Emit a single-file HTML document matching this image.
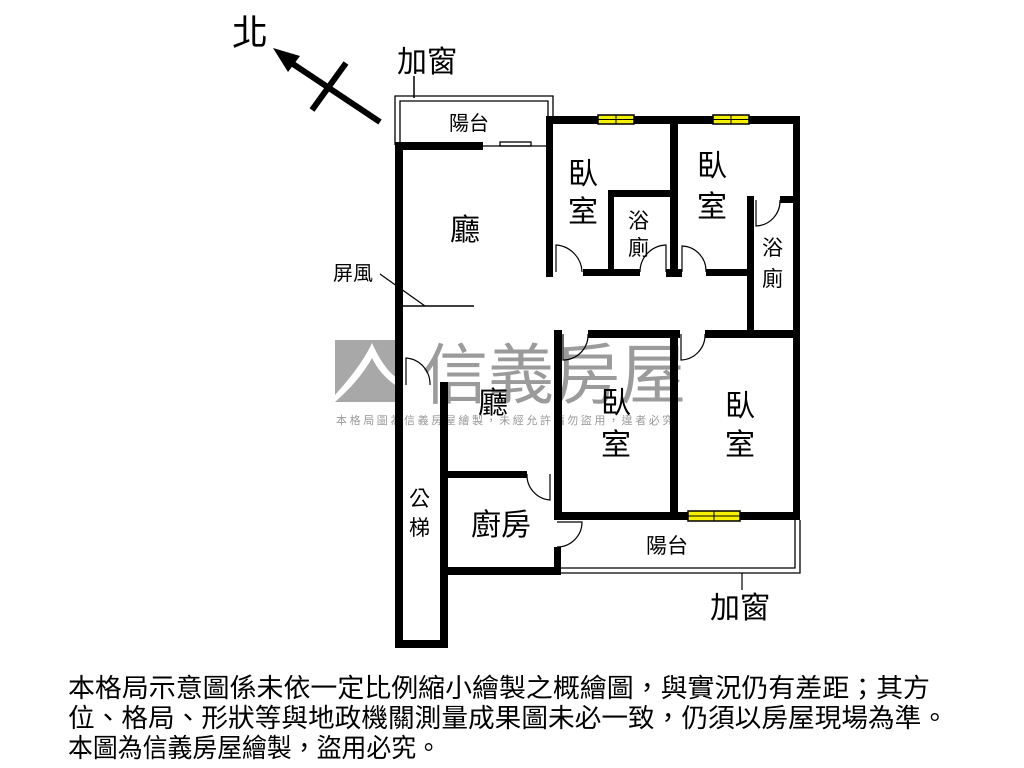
<!DOCTYPE html>
<html><head><meta charset="utf-8"><style>
html,body{margin:0;padding:0;background:#fff;}
svg{display:block;}
text{font-family:"Liberation Sans","Noto Sans CJK TC",sans-serif;fill:#000;}
</style></head><body>
<svg width="1024" height="768" viewBox="0 0 1024 768" xmlns="http://www.w3.org/2000/svg">
<rect width="1024" height="768" fill="#fff"/>
<!-- watermark -->
<g opacity="0.85">
<rect x="335" y="340" width="65" height="62" fill="#999"/>
<path d="M335 395 Q362 365 372 343 Q385 372 400 380 L400 388 Q382 378 372 358 Q360 380 335 402 Z" fill="#fff"/>
<text x="422" y="398" font-size="66" style="fill:#8a8a8a">信義房屋</text>
<text x="336" y="424" font-size="11" style="fill:#888" letter-spacing="2.6">本格局圖為信義房屋繪製，未經允許請勿盜用，違者必究</text>
</g>
<!-- north -->
<text x="232" y="45" font-size="36">北</text>
<line x1="380" y1="122" x2="290" y2="62" stroke="#000" stroke-width="6"/>
<polygon points="273,48 300,56 288,72" fill="#000"/>
<line x1="312" y1="110" x2="346" y2="63" stroke="#000" stroke-width="6"/>
<text x="397" y="72" font-size="30">加窗</text>
<line x1="414" y1="76" x2="414" y2="98" stroke="#000" stroke-width="1.5"/>
<g fill="none" stroke="#000" stroke-width="1.3">
<polyline points="395,145 395,96 553,96 553,118"/>
<polyline points="400,145 400,101 548,101 548,118"/>
<polyline points="560,568 795,568 795,520"/>
<polyline points="560,573 800,573 800,520"/>
<line x1="482" y1="146" x2="547" y2="146"/>
<rect x="500" y="142" width="31" height="4"/>
</g>
<g fill="#000">
<rect x="395" y="142" width="8" height="506"/>
<rect x="395" y="142" width="88" height="8"/>
<rect x="395" y="640" width="53" height="8"/>
<rect x="440" y="382" width="8" height="266"/>
<rect x="546" y="116" width="254" height="8"/>
<rect x="793" y="116" width="7" height="404"/>
<rect x="546" y="116" width="7" height="161"/>
<rect x="583" y="269" width="57" height="7"/>
<rect x="608" y="190" width="6" height="86"/>
<rect x="608" y="190" width="68" height="7"/>
<rect x="670" y="116" width="8" height="161"/>
<rect x="666" y="269" width="16" height="8"/>
<rect x="706" y="269" width="48" height="7"/>
<rect x="747" y="196" width="7" height="141"/>
<rect x="780" y="196" width="15" height="7"/>
<rect x="554" y="330" width="8" height="190"/>
<rect x="588" y="330" width="92" height="8"/>
<rect x="670" y="330" width="8" height="190"/>
<rect x="705" y="330" width="95" height="8"/>
<rect x="554" y="512" width="246" height="8"/>
<rect x="448" y="471" width="79" height="7"/>
<rect x="554" y="547" width="7" height="28"/>
<rect x="445" y="567" width="116" height="8"/>
</g>
<g stroke="#000" stroke-width="1.5" fill="#f4f000">
<rect x="598" y="115" width="36" height="9"/>
<rect x="713" y="115" width="36" height="9"/>
<rect x="688" y="511" width="52" height="10"/>
</g>
<g stroke="#000" stroke-width="1">
<line x1="616" y1="115" x2="616" y2="124"/><line x1="598" y1="119.5" x2="634" y2="119.5"/>
<line x1="731" y1="115" x2="731" y2="124"/><line x1="713" y1="119.5" x2="749" y2="119.5"/>
<line x1="714" y1="511" x2="714" y2="521"/><line x1="688" y1="516" x2="740" y2="516"/>
</g>
<g fill="none" stroke="#000" stroke-width="1.2">
<path d="M556 272 V245 A28 28 0 0 1 582 272"/>
<path d="M666 272 V245 A27 27 0 0 0 640 272"/>
<path d="M682 272 V246 A25 25 0 0 1 706 272"/>
<path d="M756 200 V226 A25 25 0 0 0 780 200"/>
<path d="M563 334 V360 A25 25 0 0 0 588 334"/>
<path d="M681 334 V360 A25 25 0 0 0 705 334"/>
<path d="M406 385 V358 A26 26 0 0 1 430 385"/>
<path d="M527 474 A25 25 0 0 0 550 500 V474"/>
<path d="M557 522 H582 A25 25 0 0 1 557 547"/>
<line x1="380" y1="274" x2="425" y2="306"/>
<line x1="401" y1="306" x2="474" y2="306" stroke-width="1.5"/>
<line x1="742" y1="573" x2="742" y2="590"/>
</g>
<text x="449" y="130" font-size="20">陽台</text>
<text x="568" y="184" font-size="30">臥</text>
<text x="568" y="222" font-size="30">室</text>
<text x="628" y="228" font-size="21">浴</text>
<text x="628" y="255" font-size="21">廁</text>
<text x="697" y="176" font-size="30">臥</text>
<text x="697" y="217" font-size="30">室</text>
<text x="762" y="255" font-size="21">浴</text>
<text x="762" y="286" font-size="21">廁</text>
<text x="450" y="240" font-size="30">廳</text>
<text x="333" y="280" font-size="20">屏風</text>
<text x="478" y="413" font-size="30">廳</text>
<text x="601" y="413" font-size="30">臥</text>
<text x="601" y="455" font-size="30">室</text>
<text x="725" y="416" font-size="30">臥</text>
<text x="725" y="455" font-size="30">室</text>
<text x="409" y="506" font-size="21">公</text>
<text x="409" y="535" font-size="21">梯</text>
<text x="471" y="535" font-size="30">廚房</text>
<text x="646" y="553" font-size="21">陽台</text>
<text x="710" y="618" font-size="30">加窗</text>
<text x="68" y="697" font-size="26" textLength="862" lengthAdjust="spacingAndGlyphs">本格局示意圖係未依一定比例縮小繪製之概繪圖，與實況仍有差距；其方</text>
<text x="68" y="727" font-size="26" textLength="880" lengthAdjust="spacingAndGlyphs">位、格局、形狀等與地政機關測量成果圖未必一致，仍須以房屋現場為準。</text>
<text x="68" y="757" font-size="26" textLength="373" lengthAdjust="spacingAndGlyphs">本圖為信義房屋繪製，盜用必究。</text>
</svg>
</body></html>
